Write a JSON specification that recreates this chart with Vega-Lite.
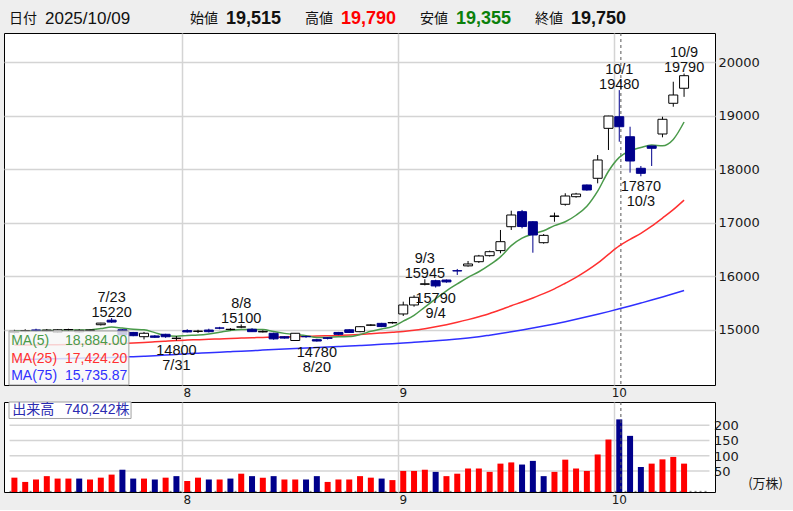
{
"$schema":"https://vega.github.io/schema/vega-lite/v6.json",
"background":"#eeeeee",
"padding":{"left":3,"top":0,"right":0,"bottom":4},
"config":{
  "font":"Liberation Sans",
  "view":{"fill":"white","stroke":"#000000","strokeWidth":1},
  "axis":{"gridColor":"#d4d4d4","gridWidth":1.5,"labelFont":"DejaVu Sans","labelColor":"#1a1a1a","ticks":false,"domain":false,"labelOverlap":false}
},
"datasets":{
"d":[
{"i":0,"d":"07-09","o":14950,"h":15000,"l":14930,"c":14970,"v":28,"dir":"up","m5":14980,"m25":14715,"m75":14440},
{"i":1,"d":"07-10","o":14975,"h":15010,"l":14950,"c":14985,"v":14,"dir":"up","m5":14982,"m25":14717,"m75":14445},
{"i":2,"d":"07-11","o":14995,"h":15020,"l":14960,"c":14990,"v":22,"dir":"up","m5":14984,"m25":14718,"m75":14450},
{"i":3,"d":"07-14","o":14980,"h":15015,"l":14960,"c":14995,"v":33,"dir":"up","m5":14986,"m25":14720,"m75":14455},
{"i":4,"d":"07-15","o":14955,"h":15010,"l":14940,"c":15000,"v":25,"dir":"up","m5":14988,"m25":14722,"m75":14460},
{"i":5,"d":"07-16","o":15000,"h":15020,"l":14980,"c":15005,"v":25,"dir":"up","m5":14995,"m25":14725,"m75":14465},
{"i":6,"d":"07-17","o":14960,"h":15010,"l":14945,"c":14990,"v":25,"dir":"down","m5":14996,"m25":14728,"m75":14470},
{"i":7,"d":"07-18","o":14990,"h":15005,"l":14970,"c":14995,"v":22,"dir":"up","m5":14997,"m25":14732,"m75":14474},
{"i":8,"d":"07-22","o":15095,"h":15130,"l":15080,"c":15125,"v":28,"dir":"up","m5":15023,"m25":14736,"m75":14478},
{"i":9,"d":"07-23","o":15180,"h":15220,"l":15130,"c":15145,"v":38,"dir":"up","m5":15052,"m25":14740,"m75":14484},
{"i":10,"d":"07-24","o":15000,"h":15010,"l":14890,"c":14905,"v":54,"dir":"down","m5":15032,"m25":14745,"m75":14490},
{"i":11,"d":"07-25","o":14950,"h":14960,"l":14880,"c":14890,"v":25,"dir":"down","m5":15012,"m25":14752,"m75":14497},
{"i":12,"d":"07-28","o":14871,"h":14960,"l":14820,"c":14935,"v":25,"dir":"up","m5":15000,"m25":14762,"m75":14505},
{"i":13,"d":"07-29","o":14885,"h":14900,"l":14850,"c":14860,"v":22,"dir":"down","m5":14947,"m25":14775,"m75":14515},
{"i":14,"d":"07-30","o":14916,"h":14925,"l":14850,"c":14870,"v":28,"dir":"up","m5":14892,"m25":14788,"m75":14527},
{"i":15,"d":"07-31","o":14840,"h":14884,"l":14800,"c":14842,"v":33,"dir":"down","m5":14879,"m25":14800,"m75":14540},
{"i":16,"d":"08-01","o":14985,"h":15010,"l":14950,"c":14960,"v":17,"dir":"up","m5":14893,"m25":14808,"m75":14553},
{"i":17,"d":"08-04","o":14970,"h":15000,"l":14940,"c":14975,"v":28,"dir":"up","m5":14901,"m25":14815,"m75":14563},
{"i":18,"d":"08-05","o":14995,"h":15020,"l":14950,"c":14965,"v":22,"dir":"down","m5":14922,"m25":14822,"m75":14572},
{"i":19,"d":"08-06","o":15035,"h":15055,"l":15010,"c":15030,"v":22,"dir":"up","m5":14954,"m25":14830,"m75":14581},
{"i":20,"d":"08-07","o":15005,"h":15030,"l":14990,"c":15010,"v":25,"dir":"down","m5":14988,"m25":14838,"m75":14590},
{"i":21,"d":"08-08","o":15050,"h":15100,"l":15030,"c":15055,"v":41,"dir":"up","m5":15007,"m25":14845,"m75":14600},
{"i":22,"d":"08-12","o":15010,"h":15030,"l":14960,"c":14965,"v":33,"dir":"down","m5":15005,"m25":14851,"m75":14610},
{"i":23,"d":"08-13","o":14960,"h":14990,"l":14950,"c":14970,"v":28,"dir":"up","m5":15006,"m25":14857,"m75":14620},
{"i":24,"d":"08-14","o":14935,"h":14945,"l":14815,"c":14830,"v":33,"dir":"down","m5":14966,"m25":14862,"m75":14630},
{"i":25,"d":"08-15","o":14870,"h":14880,"l":14835,"c":14845,"v":22,"dir":"up","m5":14933,"m25":14867,"m75":14640},
{"i":26,"d":"08-18","o":14800,"h":14940,"l":14795,"c":14935,"v":22,"dir":"up","m5":14909,"m25":14872,"m75":14650},
{"i":27,"d":"08-19","o":14875,"h":14890,"l":14850,"c":14870,"v":22,"dir":"down","m5":14890,"m25":14877,"m75":14660},
{"i":28,"d":"08-20","o":14815,"h":14830,"l":14780,"c":14790,"v":33,"dir":"down","m5":14854,"m25":14882,"m75":14668},
{"i":29,"d":"08-21","o":14850,"h":14860,"l":14820,"c":14840,"v":14,"dir":"up","m5":14856,"m25":14888,"m75":14677},
{"i":30,"d":"08-22","o":14950,"h":14960,"l":14900,"c":14915,"v":22,"dir":"up","m5":14870,"m25":14895,"m75":14686},
{"i":31,"d":"08-25","o":15000,"h":15010,"l":14940,"c":14950,"v":22,"dir":"up","m5":14873,"m25":14902,"m75":14695},
{"i":32,"d":"08-26","o":14965,"h":15065,"l":14955,"c":15058,"v":33,"dir":"up","m5":14911,"m25":14912,"m75":14705},
{"i":33,"d":"08-27","o":15085,"h":15105,"l":15070,"c":15090,"v":28,"dir":"up","m5":14971,"m25":14925,"m75":14715},
{"i":34,"d":"08-28","o":15120,"h":15130,"l":15050,"c":15060,"v":25,"dir":"down","m5":15015,"m25":14940,"m75":14728},
{"i":35,"d":"08-29","o":15130,"h":15150,"l":15115,"c":15135,"v":20,"dir":"up","m5":15059,"m25":14955,"m75":14740},
{"i":36,"d":"09-01","o":15296,"h":15526,"l":15258,"c":15464,"v":50,"dir":"up","m5":15161,"m25":14970,"m75":14752},
{"i":37,"d":"09-02","o":15464,"h":15646,"l":15432,"c":15608,"v":50,"dir":"up","m5":15271,"m25":14990,"m75":14765},
{"i":38,"d":"09-03","o":15850,"h":15945,"l":15830,"c":15860,"v":54,"dir":"up","m5":15425,"m25":15020,"m75":14779},
{"i":39,"d":"09-04","o":15918,"h":15935,"l":15790,"c":15820,"v":47,"dir":"down","m5":15577,"m25":15055,"m75":14794},
{"i":40,"d":"09-05","o":15930,"h":15940,"l":15880,"c":15895,"v":33,"dir":"up","m5":15729,"m25":15095,"m75":14810},
{"i":41,"d":"09-08","o":16105,"h":16137,"l":16025,"c":16100,"v":41,"dir":"up","m5":15857,"m25":15140,"m75":14828},
{"i":42,"d":"09-09","o":16195,"h":16286,"l":16180,"c":16230,"v":58,"dir":"up","m5":15981,"m25":15190,"m75":14848},
{"i":43,"d":"09-10","o":16273,"h":16400,"l":16250,"c":16380,"v":58,"dir":"up","m5":16085,"m25":15245,"m75":14871},
{"i":44,"d":"09-11","o":16385,"h":16480,"l":16370,"c":16460,"v":47,"dir":"up","m5":16213,"m25":15305,"m75":14900},
{"i":45,"d":"09-12","o":16480,"h":16866,"l":16430,"c":16647,"v":74,"dir":"up","m5":16363,"m25":15375,"m75":14930},
{"i":46,"d":"09-16","o":16927,"h":17226,"l":16866,"c":17146,"v":78,"dir":"up","m5":16573,"m25":15450,"m75":14962},
{"i":47,"d":"09-17","o":17208,"h":17240,"l":16897,"c":16930,"v":71,"dir":"down","m5":16713,"m25":15520,"m75":14996},
{"i":48,"d":"09-18","o":17020,"h":17030,"l":16441,"c":16772,"v":83,"dir":"down","m5":16791,"m25":15595,"m75":15032},
{"i":49,"d":"09-19","o":16628,"h":16790,"l":16610,"c":16765,"v":33,"dir":"down","m5":16852,"m25":15675,"m75":15070},
{"i":50,"d":"09-22","o":17120,"h":17190,"l":17020,"c":17127,"v":47,"dir":"up","m5":16948,"m25":15765,"m75":15110},
{"i":51,"d":"09-24","o":17346,"h":17552,"l":17320,"c":17501,"v":87,"dir":"up","m5":17019,"m25":15870,"m75":15152},
{"i":52,"d":"09-25","o":17488,"h":17560,"l":17470,"c":17538,"v":58,"dir":"up","m5":17141,"m25":15980,"m75":15196},
{"i":53,"d":"09-26","o":17707,"h":17715,"l":17600,"c":17613,"v":50,"dir":"up","m5":17309,"m25":16105,"m75":15242},
{"i":54,"d":"09-29","o":17832,"h":18267,"l":17738,"c":18174,"v":104,"dir":"up","m5":17591,"m25":16245,"m75":15290},
{"i":55,"d":"09-30","o":18766,"h":19000,"l":18361,"c":18996,"v":153,"dir":"up","m5":17964,"m25":16410,"m75":15340},
{"i":56,"d":"10-01","o":18983,"h":19480,"l":18516,"c":18796,"v":219,"dir":"down","m5":18223,"m25":16567,"m75":15392},
{"i":57,"d":"10-02","o":18609,"h":18796,"l":17937,"c":18155,"v":165,"dir":"down","m5":18347,"m25":16690,"m75":15445},
{"i":58,"d":"10-03","o":18019,"h":18062,"l":17870,"c":17925,"v":63,"dir":"down","m5":18409,"m25":16804,"m75":15500},
{"i":59,"d":"10-06","o":18436,"h":18440,"l":18062,"c":18393,"v":74,"dir":"up","m5":18453,"m25":16937,"m75":15556},
{"i":60,"d":"10-07","o":18660,"h":18983,"l":18598,"c":18935,"v":88,"dir":"up","m5":18441,"m25":17089,"m75":15614},
{"i":61,"d":"10-08","o":19234,"h":19637,"l":19170,"c":19389,"v":96,"dir":"up","m5":18559,"m25":17246,"m75":15674},
{"i":62,"d":"10-09","o":19515,"h":19790,"l":19355,"c":19750,"v":74,"dir":"up","m5":18884,"m25":17424.2,"m75":15735.87}
],
"legend":[
{"name":"MA(5)","key":"m5","val":"18,884.00"},
{"name":"MA(25)","key":"m25","val":"17,424.20"},
{"name":"MA(75)","key":"m75","val":"15,735.87"}
],
"hl":[
{"i":9,"p":15220,"t":"7/23\n15220","k":"high"},
{"i":15,"p":14800,"t":"14800\n7/31","k":"low"},
{"i":21,"p":15100,"t":"8/8\n15100","k":"high"},
{"i":28,"p":14780,"t":"14780\n8/20","k":"low"},
{"i":38,"p":15945,"t":"9/3\n15945","k":"high"},
{"i":39,"p":15790,"t":"15790\n9/4","k":"low"},
{"i":56,"p":19480,"t":"10/1\n19480","k":"high"},
{"i":58,"p":17870,"t":"17870\n10/3","k":"low"},
{"i":62,"p":19790,"t":"10/9\n19790","k":"high"}
],
"header":[
{"k":"日付","v":"2025/10/09"},
{"k":"始値","v":"19,515"},
{"k":"高値","v":"19,790"},
{"k":"安値","v":"19,355"},
{"k":"終値","v":"19,750"}
],
"vticks":[{"g":50},{"g":100},{"g":150},{"g":200}]
},
"bounds":"flush",
"spacing":1,
"resolve":{"scale":{"x":"independent","y":"independent","color":"independent"}},
"vconcat":[
{
 "width":790,"height":32,
 "view":{"fill":null,"stroke":null},
 "data":{"name":"header"},
 "resolve":{"scale":{"x":"independent","color":"independent"}},
 "layer":[
  {"transform":[{"filter":"datum.k == '日付'"}],
   "layer":[
    {"mark":{"type":"text","align":"left","baseline":"middle","dy":3,"fontSize":14,"font":"Noto Sans CJK JP","color":"#111"},
     "encoding":{"x":{"field":"k","type":"nominal","scale":{"type":"point","domain":["日付"],"range":[5,5],"padding":0},"axis":null},"text":{"field":"k"}}},
    {"mark":{"type":"text","align":"left","baseline":"middle","dx":36,"dy":3,"fontSize":17,"color":"#111"},
     "encoding":{"x":{"field":"k","type":"nominal","scale":{"type":"point","domain":["日付"],"range":[5,5],"padding":0},"axis":null},"text":{"field":"v"}}}
   ]},
  {"transform":[{"filter":"datum.k != '日付'"}],
   "layer":[
    {"mark":{"type":"text","align":"left","baseline":"middle","dy":3,"fontSize":14,"font":"Noto Sans CJK JP","color":"#111"},
     "encoding":{"x":{"field":"k","type":"nominal","scale":{"type":"point","domain":["始値","高値","安値","終値"],"range":[186,531],"padding":0},"axis":null},"text":{"field":"k"}}},
    {"mark":{"type":"text","align":"left","baseline":"middle","dx":36,"dy":3,"fontSize":18,"fontWeight":"bold"},
     "encoding":{"x":{"field":"k","type":"nominal","scale":{"type":"point","domain":["始値","高値","安値","終値"],"range":[186,531],"padding":0},"axis":null},"text":{"field":"v"},
      "color":{"field":"k","type":"nominal","scale":{"domain":["始値","高値","安値","終値"],"range":["#111111","#ff0000","#0b800b","#111111"]},"legend":null}}}
   ]}
 ]
},
{
 "bounds":"flush",
 "spacing":17,
 "resolve":{"scale":{"x":"independent","y":"independent","color":"independent"}},
 "vconcat":[
 {
  "width":711,"height":352,
  "resolve":{"scale":{"y":"independent"}},
  "layer":[
   {"data":{"name":"d"},
    "layer":[
    {"data":{"values":[{"t":"cursor"}]},
     "mark":{"type":"rule","strokeDash":[3,3],"color":"#555555","strokeWidth":1},
     "encoding":{"x":{"datum":56.15,"scale":{"domain":[-0.5,64.4],"nice":false,"zero":false},"axis":{"orient":"bottom","values":[15.5,35.5,55.5],"labelExpr":"datum.value < 20 ? '8' : (datum.value < 40 ? '9' : '10')","labelOffset":5,"grid":true,"labelPadding":2,"labelFontSize":12,"title":null}}}},
    {"transform":[{"fold":["m75","m25","m5"],"as":["key","val"]}],
     "mark":{"type":"line","strokeWidth":1.5,"interpolate":"monotone"},
     "encoding":{
      "x":{"field":"i","type":"quantitative","scale":{"domain":[-0.5,64.4],"nice":false,"zero":false},"axis":{"orient":"bottom","values":[15.5,35.5,55.5],"labelExpr":"datum.value < 20 ? '8' : (datum.value < 40 ? '9' : '10')","labelOffset":5,"grid":true,"labelPadding":2,"labelFontSize":12,"title":null}},
      "y":{"field":"val","type":"quantitative","scale":{"domain":[13968,20548],"nice":false,"zero":false},"axis":{"orient":"right","values":[15000,16000,17000,18000,19000,20000],"format":"d","grid":true,"labelPadding":3,"labelFontSize":13,"title":null}},
      "color":{"field":"key","type":"nominal","scale":{"domain":["m5","m25","m75"],"range":["#4a9a4a","#ff3030","#3030ff"]},"legend":null}}},
    {"mark":{"type":"rule","strokeWidth":1},
     "encoding":{
      "x":{"field":"i","type":"quantitative","scale":{"domain":[-0.5,64.4],"nice":false,"zero":false}},
      "y":{"field":"l","type":"quantitative","scale":{"domain":[13968,20548],"nice":false,"zero":false}},
      "y2":{"field":"h"},
      "color":{"condition":{"test":"datum.c >= datum.o","value":"#000000"},"value":"#00008b"}}},
    {"mark":{"type":"bar","size":9,"strokeWidth":1},
     "encoding":{
      "x":{"field":"i","type":"quantitative","scale":{"domain":[-0.5,64.4],"nice":false,"zero":false}},
      "y":{"field":"o","type":"quantitative","scale":{"domain":[13968,20548],"nice":false,"zero":false}},
      "y2":{"field":"c"},
      "fill":{"condition":{"test":"datum.c >= datum.o","value":"#ffffff"},"value":"#00008b"},
      "stroke":{"condition":{"test":"datum.c >= datum.o","value":"#000000"},"value":"#00008b"}}},
    {"data":{"name":"hl"},"transform":[{"filter":"datum.k == 'high'"}],
     "mark":{"type":"text","baseline":"bottom","dy":-13.5,"fontSize":14.5,"lineBreak":"\n","lineHeight":15,"color":"#111111"},
     "encoding":{
      "x":{"field":"i","type":"quantitative","scale":{"domain":[-0.5,64.4],"nice":false,"zero":false}},
      "y":{"field":"p","type":"quantitative","scale":{"domain":[13968,20548],"nice":false,"zero":false}},
      "text":{"field":"t"}}},
    {"data":{"name":"hl"},"transform":[{"filter":"datum.k == 'low'"}],
     "mark":{"type":"text","baseline":"top","dy":4,"fontSize":14.5,"lineBreak":"\n","lineHeight":15,"color":"#111111"},
     "encoding":{
      "x":{"field":"i","type":"quantitative","scale":{"domain":[-0.5,64.4],"nice":false,"zero":false}},
      "y":{"field":"p","type":"quantitative","scale":{"domain":[13968,20548],"nice":false,"zero":false}},
      "text":{"field":"t"}}},
    {"data":{"values":[{"t":"legendbox"}]},
     "mark":{"type":"rect","fill":"#f6f6f6","fillOpacity":0.82,"stroke":"#a0a0a0","strokeWidth":1},
     "encoding":{
      "x":{"datum":-0.5,"scale":{"domain":[-0.5,64.4],"nice":false,"zero":false}},
      "x2":{"datum":10.6},
      "y":{"datum":14978,"scale":{"domain":[13968,20548],"nice":false,"zero":false}},
      "y2":{"datum":13968}}}
    ]},
   {"data":{"name":"legend"},
    "layer":[
     {"mark":{"type":"text","align":"left","baseline":"middle","fontSize":14},
      "encoding":{
       "x":{"datum":-0.3},
       "y":{"field":"name","type":"nominal","scale":{"type":"point","domain":["MA(5)","MA(25)","MA(75)"],"range":[308,343],"padding":0},"axis":null},
       "text":{"field":"name"},
       "color":{"field":"key","type":"nominal","scale":{"domain":["m5","m25","m75"],"range":["#4a9a4a","#ff3030","#3030ff"]},"legend":null}}},
     {"mark":{"type":"text","align":"right","baseline":"middle","fontSize":14},
      "encoding":{
       "x":{"datum":10.45},
       "y":{"field":"name","type":"nominal","scale":{"type":"point","domain":["MA(5)","MA(25)","MA(75)"],"range":[308,343],"padding":0},"axis":null},
       "text":{"field":"val"},
       "color":{"field":"key","type":"nominal","scale":{"domain":["m5","m25","m75"],"range":["#4a9a4a","#ff3030","#3030ff"]},"legend":null}}}
    ]}
  ]
 },
 {
  "width":711,"height":90,
  "layer":[
   {"data":{"name":"vticks"},
    "mark":{"type":"rule","color":"#d4d4d4","strokeWidth":1.5},
    "encoding":{"x":{"datum":-0.45,"scale":{"domain":[-0.5,64.4],"nice":false,"zero":false}},"x2":{"datum":64.35},"y":{"field":"g","type":"quantitative","scale":{"domain":[-19,276],"nice":false,"zero":false},"axis":null}}},
   {"data":{"values":[{"t":"base"}]},
    "mark":{"type":"rule","strokeDash":[2,3],"color":"#777777","strokeWidth":1},
    "encoding":{"x":{"datum":-0.45,"scale":{"domain":[-0.5,64.4],"nice":false,"zero":false}},"x2":{"datum":64.35},"y":{"datum":-17,"scale":{"domain":[-19,276],"nice":false,"zero":false},"axis":null}}},
   {"data":{"name":"d"},
    "mark":{"type":"bar","size":6},
    "encoding":{
     "x":{"field":"i","type":"quantitative","scale":{"domain":[-0.5,64.4],"nice":false,"zero":false},"axis":{"orient":"bottom","values":[15.5,35.5,55.5],"labelExpr":"datum.value < 20 ? '8' : (datum.value < 40 ? '9' : '10')","labelOffset":5,"grid":true,"labelPadding":2,"labelFontSize":12,"title":null}},
     "y":{"field":"v","type":"quantitative","scale":{"domain":[-19,276],"nice":false,"zero":false},"axis":null},
     "y2":{"datum":-19},
     "color":{"field":"dir","type":"nominal","scale":{"domain":["up","down"],"range":["#ff0000","#00008b"]},"legend":null}}},
   {"data":{"values":[{"t":"cursor"}]},
    "mark":{"type":"rule","strokeDash":[3,3],"color":"#555555","strokeWidth":1},
    "encoding":{"x":{"datum":56.15,"scale":{"domain":[-0.5,64.4],"nice":false,"zero":false}}}},
   {"data":{"name":"vticks"},
    "mark":{"type":"text","align":"left","baseline":"middle","dx":4,"dy":1,"fontSize":13,"font":"DejaVu Sans","color":"#1a1a1a"},
    "encoding":{"x":{"datum":64.4,"scale":{"domain":[-0.5,64.4],"nice":false,"zero":false}},"y":{"field":"g","type":"quantitative","scale":{"domain":[-19,276],"nice":false,"zero":false},"axis":null},"text":{"field":"g"}}},
   {"data":{"values":[{"u":"(万株)"}]},
    "mark":{"type":"text","align":"right","baseline":"bottom","dx":73,"dy":-1,"fontSize":13,"font":"Noto Sans CJK JP","color":"#1a1a1a"},
    "encoding":{"x":{"datum":64.4,"scale":{"domain":[-0.5,64.4],"nice":false,"zero":false}},"y":{"datum":-19,"scale":{"domain":[-19,276],"nice":false,"zero":false},"axis":null},"text":{"field":"u"}}},
   {"data":{"values":[{"name":"出来高","val":"740,242株"}]},
    "layer":[
     {"mark":{"type":"rect","fill":"#ffffff","stroke":"#a0a0a0","strokeWidth":1},
      "encoding":{"x":{"datum":-0.5,"scale":{"domain":[-0.5,64.4],"nice":false,"zero":false}},"x2":{"datum":10.8},"y":{"datum":276,"scale":{"domain":[-19,276],"nice":false,"zero":false},"axis":null},"y2":{"datum":222}}},
     {"mark":{"type":"text","align":"left","baseline":"middle","fontSize":14,"font":"Noto Sans CJK JP","color":"#2b2bb0"},
      "encoding":{"x":{"datum":-0.2},"y":{"datum":249},"text":{"field":"name"}}},
     {"mark":{"type":"text","align":"right","baseline":"middle","fontSize":14,"font":"Liberation Sans, Noto Sans CJK JP","color":"#2b2bb0"},
      "encoding":{"x":{"datum":10.65},"y":{"datum":249},"text":{"field":"val"}}}
    ]}
  ]
 }
 ]
}
]
}
